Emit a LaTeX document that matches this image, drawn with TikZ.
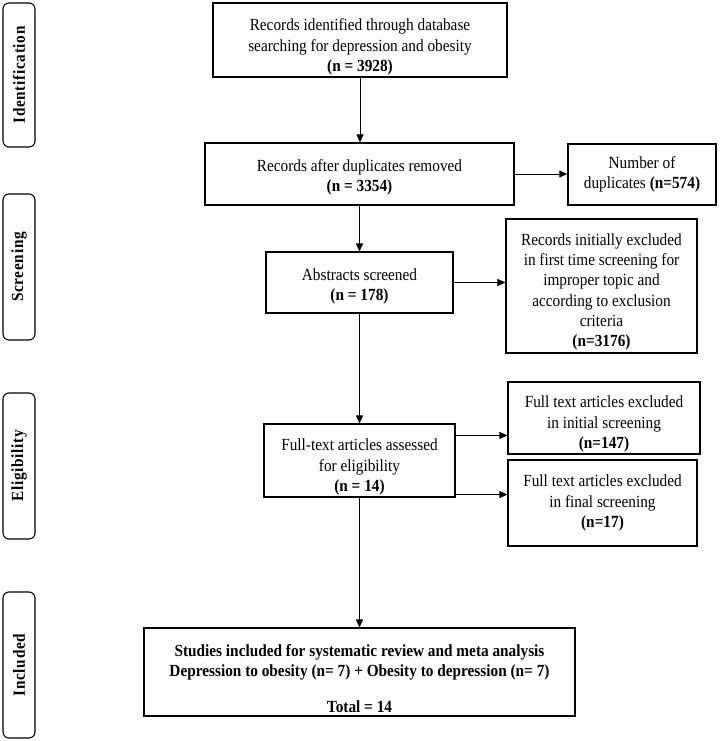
\documentclass[tikz,border=0pt]{standalone}
\usepackage{fontspec}
\setmainfont{Liberation Serif}[FakeStretch=0.9]
\usetikzlibrary{arrows.meta}

\tikzset{
  box/.style={draw, line width=1.1pt, inner sep=0pt},
  txt/.style={align=center, inner sep=0pt, font=\fontsize{17}{20.3}\selectfont},
  phase/.style={draw, line width=1.1pt, rounded corners=6pt, rotate=90,
    minimum width=146pt, minimum height=32pt, inner sep=0pt,
    font=\fontsize{17}{20}\selectfont\bfseries\addfontfeature{LetterSpace=4}},
}

\begin{document}
\begin{tikzpicture}[x=1pt, y=-1pt, >={Triangle[length=8pt,width=7pt]}, line width=1pt]
  \useasboundingbox (0,0) rectangle (720,741);

  % phases on the left
  \node[phase, minimum width=144pt] (ident) at (19,75) {Identification};
  \node[phase] (screen) at (19,267) {Screening};
  \node[phase] (elig) at (19,466) {Eligibility};
  \node[phase] (inclph) at (19,665) {Included};

  % boxes
  \node[box, minimum width=294pt, minimum height=74pt] (rec) at (360,40) {};
  \node[txt] (rectxt) at ([yshift=-7pt]rec.center)
    {Records identified through database\\searching for depression and obesity\\\textbf{(n = 3928)}};

  \node[box, minimum width=309pt, minimum height=62pt] (dedup) at (359.5,174) {};
  \node[txt] (deduptxt) at ([yshift=-3pt]dedup.center)
    {Records after duplicates removed\\\textbf{(n = 3354)}};

  \node[box, line width=1.5pt, minimum width=148pt, minimum height=61pt] (dups) at (642,174.5) {};
  \node[txt] (dupstxt) at (dups.center) {Number of\\duplicates \textbf{(n=574)}};

  \node[box, minimum width=187pt, minimum height=61pt] (abstr) at (359.5,282.5) {};
  \node[txt] (abstrtxt) at ([yshift=-4pt]abstr.center) {Abstracts screened\\\textbf{(n = 178)}};

  \node[box, minimum width=191pt, minimum height=134pt] (excl1) at (601.5,286) {};
  \node[txt] (excl1txt) at ([yshift=-6pt]excl1.center)
    {Records initially excluded\\in first time screening for\\improper topic and\\according to exclusion\\criteria\\\textbf{(n=3176)}};

  \node[box, minimum width=191pt, minimum height=73pt] (full) at (359.5,460.5) {};
  \node[txt] (fulltxt) at ([yshift=-6.5pt]full.center)
    {Full-text articles assessed\\for eligibility\\\textbf{(n = 14)}};

  \node[box, minimum width=192pt, minimum height=72pt] (excl2) at (604,418) {};
  \node[txt] (excl2txt) at ([yshift=-6pt]excl2.center)
    {Full text articles excluded\\in initial screening\\\textbf{(n=147)}};

  \node[box, minimum width=189pt, minimum height=86pt] (excl3) at (602.5,503) {};
  \node[txt] (excl3txt) at (excl3.center)
    {Full text articles excluded\\in final screening\\\textbf{(n=17)}};

  \node[box, minimum width=431pt, minimum height=88pt] (incl) at (359.5,672) {};
  \node[txt, font=\fontsize{17}{20.3}\selectfont\bfseries] (incltxt) at ([yshift=-6.5pt]incl.center)
    {Studies included for systematic review and meta analysis\\Depression to obesity (n= 7) + Obesity to depression (n= 7)\\[15pt]Total = 14};

  % arrows
  \draw[->] (rec.south) -- (rec.south |- dedup.north);
  \draw[->] (dedup.east) -- (dedup.east -| dups.west);
  \draw[->] (dedup.south) -- (dedup.south |- abstr.north);
  \draw[->] (abstr.east) -- (abstr.east -| excl1.west);
  \draw[->] (abstr.south) -- (abstr.south |- full.north);
  \draw[->] ([yshift=-12pt]full.north east) -- ([yshift=-12pt]full.north east -| excl2.west);
  \draw[->] ([yshift=3pt]full.south east) -- ([yshift=3pt]full.south east -| excl3.west);
  \draw[->] (full.south) -- (full.south |- incl.north);
\end{tikzpicture}
\end{document}
